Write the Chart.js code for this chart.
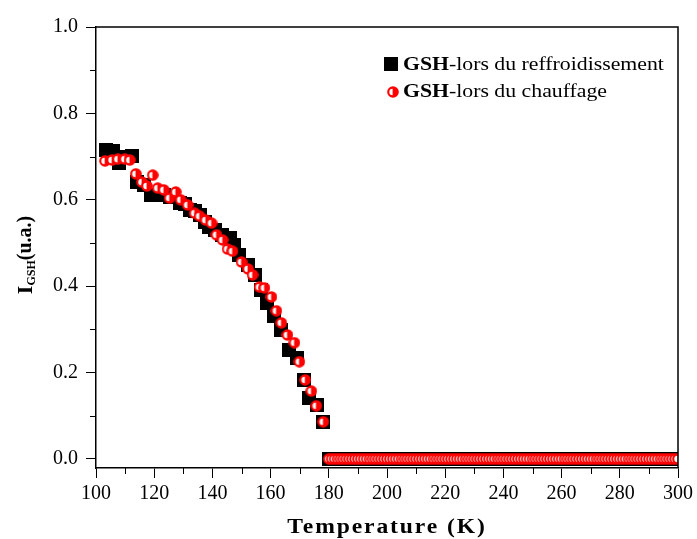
<!DOCTYPE html>
<html><head><meta charset="utf-8">
<script src="https://cdn.jsdelivr.net/npm/chart.js@4.4.0/dist/chart.umd.min.js"></script>
<style>html,body{margin:0;padding:0;background:#fff;overflow:hidden}#wrap{width:697px;height:539px}</style>
</head><body><div id="wrap"><canvas id="c" width="697" height="539"></canvas></div>
<script>
// ---- data ----
const coolingT = [103.5, 105.8, 108.0, 110.3, 112.5, 114.0, 116.5, 119.0, 121.0, 123.2, 125.5, 128.8, 130.5, 132.2, 134.0, 135.6, 137.5, 139.0, 141.0, 143.2, 145.9, 147.5, 149.3, 152.1, 154.5, 156.8, 158.9, 161.3, 163.7, 166.4, 169.2, 171.6, 173.3, 176.0, 177.9];
const coolingI = [0.715, 0.712, 0.685, 0.700, 0.702, 0.640, 0.635, 0.612, 0.610, 0.610, 0.606, 0.593, 0.590, 0.576, 0.575, 0.565, 0.548, 0.537, 0.530, 0.519, 0.512, 0.495, 0.472, 0.449, 0.426, 0.391, 0.361, 0.331, 0.299, 0.252, 0.234, 0.183, 0.141, 0.125, 0.086];
const heatingT = [103.1, 105.5, 107.5, 109.9, 111.6, 113.7, 115.8, 117.5, 119.5, 121.2, 123.3, 125.3, 127.4, 129.1, 131.5, 133.9, 135.6, 137.7, 139.7, 141.4, 143.5, 145.2, 146.9, 150.0, 152.2, 153.8, 156.2, 157.9, 160.3, 162.0, 163.7, 165.8, 168.2, 169.9, 171.9, 174.0, 175.7, 178.1];
const heatingI = [0.690, 0.692, 0.694, 0.694, 0.692, 0.660, 0.641, 0.632, 0.657, 0.627, 0.623, 0.604, 0.618, 0.600, 0.588, 0.569, 0.562, 0.553, 0.546, 0.519, 0.507, 0.486, 0.481, 0.456, 0.440, 0.426, 0.398, 0.396, 0.375, 0.343, 0.315, 0.287, 0.269, 0.225, 0.183, 0.157, 0.123, 0.086];
const plateauT = [180,181,182,183,184,185,186,187,188,189,190,191,192,193,194,195,196,197,198,199,200,201,202,203,204,205,206,207,208,209,210,211,212,213,214,215,216,217,218,219,220,221,222,223,224,225,226,227,228,229,230,231,232,233,234,235,236,237,238,239,240,241,242,243,244,245,246,247,248,249,250,251,252,253,254,255,256,257,258,259,260,261,262,263,264,265,266,267,268,269,270,271,272,273,274,275,276,277,278,279,280,281,282,283,284,285,286,287,288,289,290,291,292,293,294,295,296,297,298,299,300];
const plateauI = [0,0,0,0,0,0,0,0,0,0,0,0,0,0,0,0,0,0,0,0,0,0,0,0,0,0,0,0,0,0,0,0,0,0,0,0,0,0,0,0,0,0,0,0,0,0,0,0,0,0,0,0,0,0,0,0,0,0,0,0,0,0,0,0,0,0,0,0,0,0,0,0,0,0,0,0,0,0,0,0,0,0,0,0,0,0,0,0,0,0,0,0,0,0,0,0,0,0,0,0,0,0,0,0,0,0,0,0,0,0,0,0,0,0,0,0,0,0,0,0,0];
const xTicks = [100, 120, 140, 160, 180, 200, 220, 240, 260, 280, 300];
const xMinor = [110, 130, 150, 170, 190, 210, 230, 250, 270, 290];
const yTicks = [0.0, 0.2, 0.4, 0.6, 0.8, 1.0];
const yMinor = [0.1, 0.3, 0.5, 0.7, 0.9];
const legendBold = 'GSH';
const legendCooling = '-lors du reffroidissement';
const legendHeating = '-lors du chauffage';
const xTitle = 'Temperature (K)';
const yTitleMain = 'I', yTitleSub = 'GSH', yTitleRest = '(u.a.)';

// ---- markers ----
function makeSquare() {
  const c = document.createElement('canvas'); c.width = 14; c.height = 14;
  const g = c.getContext('2d'); g.fillStyle = '#000'; g.fillRect(0, 0, 14, 14); return c;
}
function makeCircle() {
  const c = document.createElement('canvas'); c.width = 12; c.height = 12;
  const g = c.getContext('2d');
  g.fillStyle = '#ff0000'; g.beginPath(); g.arc(6, 6, 5.8, 0, Math.PI * 2); g.fill();
  g.fillStyle = '#ffffff'; g.beginPath(); g.arc(5.6, 6, 3.3, Math.PI / 2, Math.PI * 1.5); g.closePath(); g.fill();
  return c;
}
const sqImg = makeSquare(), ciImg = makeCircle();

const pts = (xs, ys) => xs.map((x, i) => ({x: x, y: ys[i]}));
const coolingData = pts(coolingT, coolingI).concat(pts(plateauT, plateauI));
const heatingData = pts(heatingT, heatingI).concat(pts(plateauT, plateauI));

const serif = '"Liberation Serif", "Times New Roman", serif';

const decor = {
  id: 'decor',
  afterDraw(chart) {
    const ctx = chart.ctx, a = chart.chartArea, xs = chart.scales.x, ys = chart.scales.y;
    ctx.save();
    ctx.strokeStyle = '#000'; ctx.lineWidth = 1.5;
    ctx.beginPath();
    ctx.moveTo(a.left, a.top); ctx.lineTo(a.right, a.top); ctx.lineTo(a.right, a.bottom);
    ctx.stroke();
    ctx.lineWidth = 1;
    ctx.beginPath();
    xMinor.forEach(v => { const p = Math.round(xs.getPixelForValue(v)) + 0.5; ctx.moveTo(p, a.bottom); ctx.lineTo(p, a.bottom + 6); });
    yMinor.forEach(v => { const p = Math.round(ys.getPixelForValue(v)) + 0.5; ctx.moveTo(a.left, p); ctx.lineTo(a.left - 6, p); });
    ctx.stroke();

    // legend
    ctx.fillStyle = '#000';
    ctx.textBaseline = 'alphabetic';
    const lx = 403;
    ctx.drawImage(sqImg, 384, 57);
    ctx.drawImage(ciImg, 387, 86);
    const drawLeg = (y, rest) => {
      ctx.save(); ctx.translate(lx, y); ctx.scale(1.21, 1);
      ctx.font = 'bold 18px ' + serif; ctx.fillText(legendBold, 0, 0);
      const w = ctx.measureText(legendBold).width;
      ctx.font = '18px ' + serif; ctx.fillText(rest, w, 0);
      ctx.restore();
    };
    drawLeg(70, legendCooling);
    drawLeg(97, legendHeating);

    // x title
    ctx.save();
    ctx.translate((a.left + a.right) / 2, 533); ctx.scale(1.18, 1);
    ctx.font = 'bold 20px ' + serif;
    ctx.letterSpacing = '1.6px';
    ctx.textAlign = 'center';
    ctx.fillText(xTitle, 0, 0);
    ctx.restore();

    // y title
    ctx.save();
    ctx.translate(32, 255); ctx.rotate(-Math.PI / 2);
    ctx.font = 'bold 22px ' + serif; const w1 = ctx.measureText(yTitleMain).width;
    ctx.font = 'bold 12px ' + serif; const w2 = ctx.measureText(yTitleSub).width;
    ctx.font = 'bold 20px ' + serif; const w3 = ctx.measureText(yTitleRest).width;
    let x0 = -(w1 + w2 + w3) / 2;
    ctx.textAlign = 'left';
    ctx.font = 'bold 22px ' + serif; ctx.fillText(yTitleMain, x0, 0); x0 += w1;
    ctx.font = 'bold 12px ' + serif; ctx.fillText(yTitleSub, x0, 3); x0 += w2;
    ctx.font = 'bold 20px ' + serif; ctx.fillText(yTitleRest, x0, -1);
    ctx.restore();
    ctx.restore();
  }
};

const clipArea = {left: 10, top: 10, right: 0, bottom: 10};

new Chart(document.getElementById('c'), {
  type: 'scatter',
  data: {
    datasets: [
      {label: legendBold + legendHeating, data: heatingData, pointStyle: ciImg, pointRadius: 6, order: 0, clip: clipArea},
      {label: legendBold + legendCooling, data: coolingData, pointStyle: sqImg, pointRadius: 7, order: 1, clip: clipArea}
    ]
  },
  options: {
    responsive: false, animation: false, devicePixelRatio: 1,
    layout: {padding: {left: 0, right: 17, top: 27, bottom: 0}},
    plugins: {legend: {display: false}, tooltip: {enabled: false}},
    scales: {
      x: {
        type: 'linear', min: 100, max: 300,
        afterFit: s => { s.height = 71; },
        afterBuildTicks: s => { s.ticks = xTicks.map(v => ({value: v})); },
        grid: {drawOnChartArea: false, drawTicks: true, tickLength: 10, color: '#000', lineWidth: 1},
        border: {display: true, color: '#000', width: 1.5},
        ticks: {font: {family: serif, size: 20}, color: '#000', padding: 4, maxRotation: 0, autoSkip: false}
      },
      y: {
        type: 'linear', min: -0.021, max: 1.0,
        afterFit: s => { s.width = 96; },
        afterBuildTicks: s => { s.ticks = yTicks.map(v => ({value: v})); },
        grid: {drawOnChartArea: false, drawTicks: true, tickLength: 10, color: '#000', lineWidth: 1},
        border: {display: true, color: '#000', width: 1.5},
        ticks: {font: {family: serif, size: 20}, color: '#000', padding: 8, autoSkip: false, callback: v => Number(v).toFixed(1)}
      }
    }
  },
  plugins: [decor]
});
</script>
</body></html>
